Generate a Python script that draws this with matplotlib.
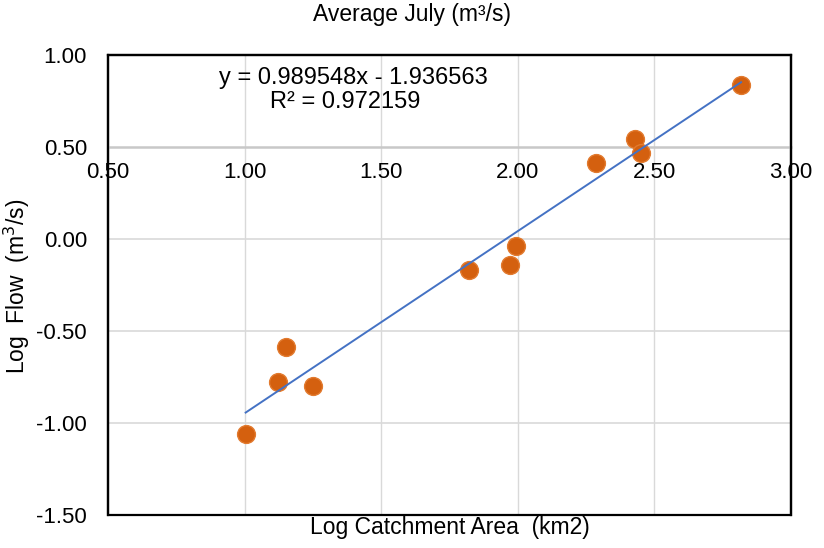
import numpy as np
import matplotlib
matplotlib.use("Agg")
import matplotlib.pyplot as plt
from matplotlib.patches import Rectangle

plt.rcParams["font.family"] = ["Liberation Sans", "DejaVu Sans"]
plt.rcParams["axes.unicode_minus"] = False

# Data
log_area = [1.004, 1.123, 1.150, 1.252, 1.821, 1.971, 1.992, 2.285, 2.429, 2.452, 2.817]
log_flow = [-1.061, -0.779, -0.588, -0.800, -0.167, -0.142, -0.036, 0.414, 0.540, 0.468, 0.838]
slope = 0.989548
intercept = -1.936563
r2 = 0.972159
x_ticks = [0.5, 1.0, 1.5, 2.0, 2.5, 3.0]
y_ticks = [1.0, 0.5, 0.0, -0.5, -1.0, -1.5]

fig = plt.figure(figsize=(8.24, 5.48), dpi=100)
ax = fig.add_axes([0.131, 0.06, 0.829, 0.84])

ax.set_xlim(0.5, 3.0)
ax.set_ylim(-1.5, 1.0)

# gridlines
for xv in x_ticks[1:-1]:
    ax.axvline(xv, color="#D9D9D9", linewidth=1.0, zorder=0)
for yv in y_ticks[2:-1]:
    ax.axhline(yv, color="#D9D9D9", linewidth=1.2, zorder=0)

# horizontal axis crosses at 0.5
ax.spines["bottom"].set_position(("data", 0.5))
ax.spines["bottom"].set_color("#C8C8C8")
ax.spines["bottom"].set_linewidth(1.8)
for s in ["left", "right", "top"]:
    ax.spines[s].set_color("black")
    ax.spines[s].set_linewidth(1.6)
ax.add_patch(Rectangle((0, 0), 1, 1, transform=ax.transAxes, fill=False,
                       edgecolor="black", linewidth=1.6, clip_on=False, zorder=5))

ax.set_xticks(x_ticks)
ax.set_xticklabels([f"{v:.2f}" for v in x_ticks])
ax.set_yticks(y_ticks)
ax.set_yticklabels([f"{v:.2f}" for v in y_ticks])
ax.tick_params(axis="both", length=0, labelsize=16, colors="black")
ax.tick_params(axis="x", pad=11)
ax.tick_params(axis="y", pad=15)

# scatter + trendline
ax.scatter(log_area, log_flow, s=165, color="#D4600F", edgecolors="#E27A2E",
           linewidths=1.0, zorder=3)
xs = np.array([min(log_area), max(log_area)])
ax.plot(xs, slope * xs + intercept, color="#4472C4", linewidth=1.4, zorder=4)

ax.text(1.40, 0.872, f"y = {slope:.6f}x - {abs(intercept):.6f}", ha="center",
        va="center", fontsize=17)
ax.text(1.37, 0.742, f"R² = {r2:.6f}", ha="center", va="center", fontsize=17)

fig.text(0.5, 0.962, "Average July (m³/s)", ha="center", va="baseline", fontsize=16.5)
fig.text(0.546, 0.038, "Log Catchment Area  (km2)", ha="center", va="center", fontsize=16.5)
fig.text(0.021, 0.477, "Log  Flow  (m$^3$/s)", ha="center", va="center",
         rotation=90, fontsize=16.5)

fig.savefig("out.png", dpi=100)
